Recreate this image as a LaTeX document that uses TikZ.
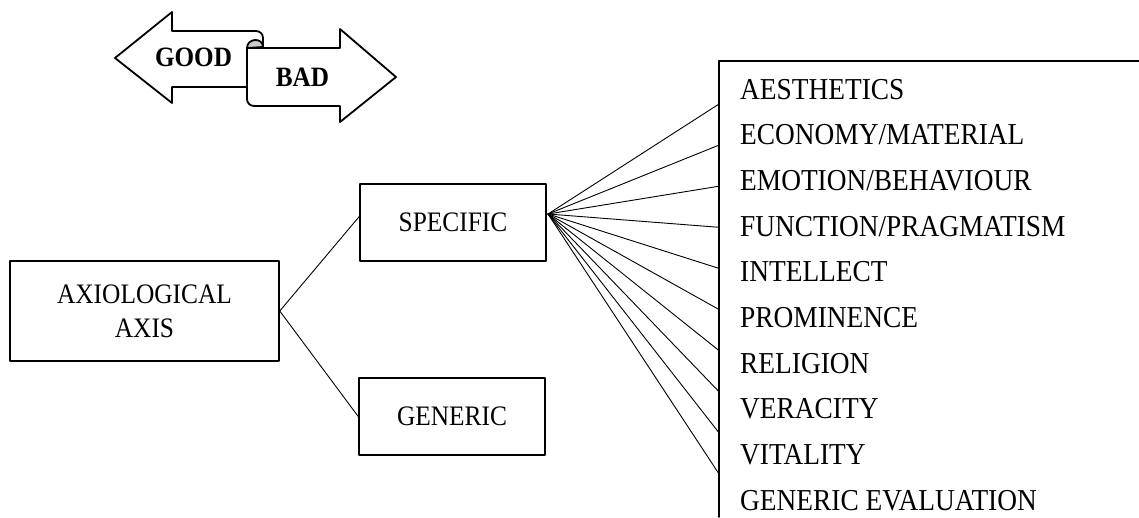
\documentclass[tikz,border=0pt]{standalone}
\usepackage{fontspec}
\setmainfont[FakeStretch=0.9]{Liberation Serif}
\begin{document}
\begin{tikzpicture}[x=1pt, y=-1pt, line join=round, line cap=round,
  box/.style={draw, line width=1.5pt, inner sep=0pt, align=center, font=\fontsize{28.2}{34}\selectfont},
  arrowshape/.style={draw, fill=white, line width=1.8pt},
  tag/.style={inner sep=0pt, font=\fontsize{28}{30}\selectfont\bfseries},
  item/.style={anchor=base west, inner sep=0pt, font=\fontsize{30.4}{32}\selectfont},
  fan/.style={line width=0.9pt}]
 \useasboundingbox (0,0) rectangle (1139,517);
 \def\listx{719}\def\listtop{61}
 % good / bad arrows
 \draw[arrowshape] (115,58) -- (172,12) -- (172,31) -- (256,31) arc (-90:0:7) -- (263,87)
   -- (172,87) -- (172,103) -- cycle;
 \draw[arrowshape] (247,48) -- (340,48) -- (340,29) -- (396,77) -- (340,122) -- (340,106)
   -- (254,106) arc (90:180:7) -- cycle;
 \draw[line width=1.8pt, fill=gray!40] (247,48) .. controls (247,38) and (263,37) .. (263,47) -- cycle;
 \node[tag] (good) at (193.5,57) {GOOD};
 \node[tag] (bad) at (302.5,77) {BAD};
 % boxes
 \node[box, minimum width=269pt, minimum height=100pt] (axis) at (144.5,311) {AXIOLOGICAL\\AXIS};
 \node[box, minimum width=186pt, minimum height=77pt] (spec) at (453,222.5) {SPECIFIC};
 \node[box, minimum width=186pt, minimum height=77pt] (gen) at (452,416.5) {GENERIC};
 \draw[fan] (axis.east) -- ([yshift=6pt]spec.west);
 \draw[fan] (axis.east) -- (gen.west);
 % value list
 \draw[line width=1.5pt] (1139,\listtop) -- (\listx,\listtop) -- (\listx,517);
 \foreach \val [count=\i from 0] in {AESTHETICS, {ECONOMY/MATERIAL}, {EMOTION/BEHAVIOUR},
   {FUNCTION/PRAGMATISM}, INTELLECT, PROMINENCE, RELIGION, VERACITY, VITALITY, GENERIC EVALUATION}
  \node[item] (item\i) at (740,{99+45.7*\i}) {\val};
 \coordinate (hub) at (548,214);
 \foreach \i in {0,...,9}
 {\coordinate (end\i) at (\listx,{104+41.1*\i});
  \draw[fan] (hub) -- (end\i);}
\end{tikzpicture}
\end{document}
